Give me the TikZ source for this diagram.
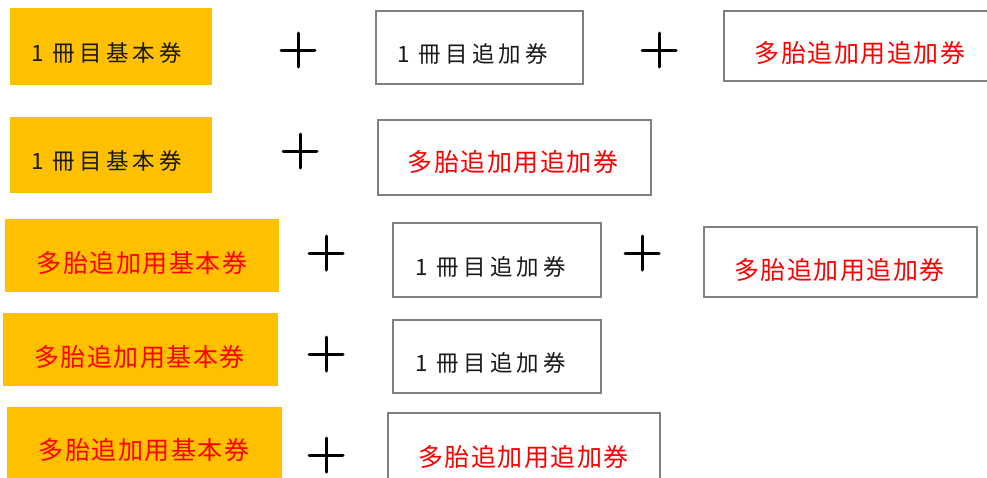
\documentclass[tikz,border=0pt]{standalone}
\usepackage{fontspec}
\newfontfamily\jpblack[LetterSpace=18]{Noto Sans CJK JP}
\newfontfamily\jpred[LetterSpace=6]{Noto Sans CJK JP}
\definecolor{boxorange}{HTML}{FFC000}
\definecolor{boxgrey}{HTML}{7F7F7F}
\definecolor{txtred}{HTML}{FF0000}
\definecolor{txtblack}{HTML}{1A1A1A}
\tikzset{
  orangebox/.style={fill=boxorange, draw=none},
  greybox/.style={draw=boxgrey, line width=2.5pt, fill=white},
  blacktxt/.style={inner sep=0pt, text=txtblack, font=\jpblack\fontsize{22.5}{22.5}\selectfont},
  redtxt/.style={inner sep=0pt, text=txtred, font=\jpred\fontsize{25}{25}\selectfont},
  plussign/.pic={\draw[line width=3pt, line cap=round] (-17,0) -- (17,0) (0,-17) -- (0,17);}
}
\begin{document}
\begin{tikzpicture}[x=1pt, y=-1pt]
\useasboundingbox (0,0) rectangle (987,477);
\clip (0,0) rectangle (987,477);
% row 1
\path[orangebox] (10,8) rectangle (212,85) coordinate (a1);
\node[blacktxt] (a1t) at (106.5,53) {1 冊目基本券};
\pic at (298,50) {plussign};
\draw[greybox] (376,11) rectangle (583,84) coordinate (b1);
\node[blacktxt] (b1t) at (472.5,54) {1 冊目追加券};
\pic at (659,50) {plussign};
\draw[greybox] (724,11) rectangle (1000,81) coordinate (c1);
\node[redtxt] (c1t) at (860,53) {多胎追加用追加券};
% row 2
\path[orangebox] (10,117) rectangle (212,193) coordinate (a2);
\node[blacktxt] (a2t) at (106.5,161) {1 冊目基本券};
\pic at (300,151) {plussign};
\draw[greybox] (378,120) rectangle (651,195) coordinate (b2);
\node[redtxt] (b2t) at (513,162) {多胎追加用追加券};
% row 3
\path[orangebox] (5,219) rectangle (279,292) coordinate (a3);
\node[redtxt] (a3t) at (142,263) {多胎追加用基本券};
\pic at (326,253) {plussign};
\draw[greybox] (393,223) rectangle (601,297) coordinate (b3);
\node[blacktxt] (b3t) at (490.5,267) {1 冊目追加券};
\pic at (642,253) {plussign};
\draw[greybox] (704,227) rectangle (977,297) coordinate (c3);
\node[redtxt] (c3t) at (839.5,270) {多胎追加用追加券};
% row 4
\path[orangebox] (3,313) rectangle (278,386) coordinate (a4);
\node[redtxt] (a4t) at (139.5,357) {多胎追加用基本券};
\pic at (326,354) {plussign};
\draw[greybox] (393,320) rectangle (601,393) coordinate (b4);
\node[blacktxt] (b4t) at (490.5,363) {1 冊目追加券};
% row 5
\path[orangebox] (7,407) rectangle (282,495) coordinate (a5);
\node[redtxt] (a5t) at (144,450) {多胎追加用基本券};
\pic at (326,455) {plussign};
\draw[greybox] (388,413) rectangle (660,495) coordinate (b5);
\node[redtxt] (b5t) at (523.5,457) {多胎追加用追加券};
\end{tikzpicture}
\end{document}
